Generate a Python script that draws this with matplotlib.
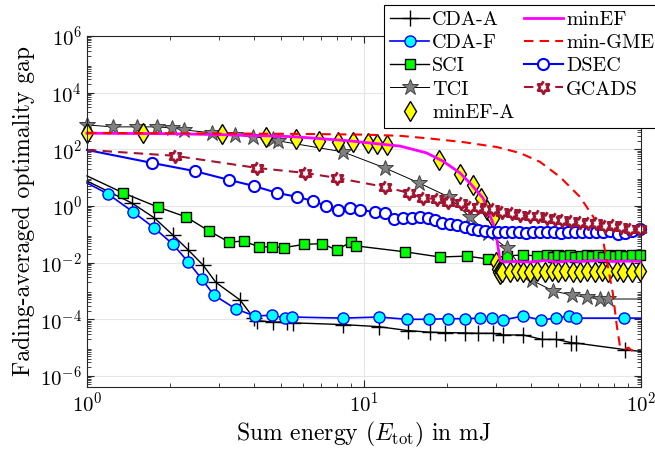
import numpy as np
import matplotlib
matplotlib.use("Agg")
import matplotlib.pyplot as plt

plt.rcParams["font.family"] = "serif"
plt.rcParams["font.serif"] = ["cmr10"]
plt.rcParams["mathtext.fontset"] = "cm"
plt.rcParams["axes.formatter.use_mathtext"] = True
plt.rcParams["axes.unicode_minus"] = False

# ---------------- data (energy in mJ, gap values) ----------------
cdaa_x = [1.0, 1.45, 1.75, 2.04, 2.32, 2.62, 2.92, 3.57, 4.0, 4.1, 4.7, 5.27, 5.54,
          8.4, 11.3, 14.4, 17.3, 19.6, 23.2, 25.8, 29.2, 31.8, 37.5, 44.0, 49.4,
          55.9, 58.2, 87.5, 100.0]
cdaa_y = [7.6, 1.28, 0.38, 0.095, 0.028, 0.0083, 0.002, 4.8e-4, 1.1e-4, 9e-5, 8e-5,
          8e-5, 7.5e-5, 6.5e-5, 5.5e-5, 4e-5, 3.5e-5, 3.4e-5, 3.3e-5, 3.2e-5, 3.2e-5,
          2.8e-5, 2.8e-5, 1.95e-5, 1.95e-5, 1.5e-5, 1.45e-5, 8.5e-6, 7.3e-6]

cdaf_x = [1.0, 1.19, 1.47, 1.75, 2.04, 2.32, 2.6, 2.87, 3.45, 4.04, 4.65, 5.2, 5.5,
          8.4, 11.3, 14.3, 17.1, 20.1, 23.2, 26.2, 29.0, 31.8, 37.5, 43.6, 49.4,
          55.0, 58.2, 86.7, 100.0]
cdaf_y = [6.5, 2.65, 0.61, 0.167, 0.045, 0.0105, 0.0026, 7.2e-4, 2.3e-4, 1.3e-4,
          1.4e-4, 1.1e-4, 1.2e-4, 1.1e-4, 1.2e-4, 1.0e-4, 1.0e-4, 1.05e-4, 1.05e-4,
          1.1e-4, 1.1e-4, 9.5e-5, 1.3e-4, 9.5e-5, 1.1e-4, 1.3e-4, 1.1e-4, 1.1e-4, 1.1e-4]

sci_x = [1.0, 1.35, 1.80, 2.28, 2.76, 3.26, 3.68, 4.17, 4.65, 5.14, 6.07, 7.05, 7.96,
         8.96, 9.35, 14.1, 18.8, 23.5, 28.0, 32.8, 37.5, 42.2, 45.8, 48.2, 50.1, 52.7,
         55.4, 57.9, 60.9, 63.8, 66.5, 70.0, 73.2, 76.8, 80.6, 84.0, 88.3, 92.8, 99.2]
sci_y = [11.5, 2.9, 0.92, 0.41, 0.13, 0.053, 0.058, 0.036, 0.036, 0.034, 0.044, 0.047,
         0.028, 0.053, 0.039, 0.024, 0.0158, 0.017, 0.0134, 0.017, 0.019, 0.017, 0.018,
         0.016, 0.019, 0.017, 0.018, 0.016, 0.017, 0.019, 0.017, 0.018, 0.016, 0.018,
         0.017, 0.019, 0.017, 0.018, 0.018]

tci_x = [1.0, 1.24, 1.51, 1.79, 2.03, 2.24, 2.83, 3.42, 3.97, 4.69, 4.89, 8.4, 11.9,
         15.8, 20.2, 24.1, 28.0, 32.7, 40.3, 48.2, 56.3, 63.6, 71.1, 75.8, 100.0]
tci_y = [725, 620, 620, 620, 570, 485, 380, 320, 275, 235, 200, 81, 22, 6.5, 2.1,
         0.41, 0.11, 0.033, 0.0024, 0.001, 7.2e-4, 6e-4, 5.2e-4, 5.2e-4, 5.2e-4]

minefa_x = [1.0, 1.59, 3.07, 4.43, 5.68, 6.88, 8.05, 9.12, 10.3, 11.1, 12.1, 18.7,
            22.2, 24.8, 26.4, 27.8, 29.2, 30.0, 30.4, 30.7, 31.0, 31.2, 31.5, 33.7,
            35.7, 37.5, 39.7, 42.2, 45.0, 47.7, 50.1, 53.2, 56.9, 60.2, 63.8, 68.2,
            72.3, 76.0, 81.9, 86.1, 92.8, 99.2]
minefa_y = [380, 380, 350, 275, 235, 200, 180, 180, 170, 155, 143, 42, 13.5, 5.5, 1.9,
            0.72, 0.38, 0.0105, 0.006, 0.0045, 0.004, 0.005, 0.0047, 0.0047, 0.005,
            0.0045, 0.0048, 0.005, 0.0046, 0.0049, 0.0047, 0.005, 0.0046, 0.0048,
            0.005, 0.0047, 0.0049, 0.0046, 0.005, 0.0048, 0.0047, 0.005]

minef_x = [1.0, 2.0, 3.0, 5.0, 5.87, 8.8, 13.5, 16.8, 19.3, 22.2, 24.1, 26.9, 29.2,
           30.2, 31.0, 32.0, 35.0, 40.0, 45.0, 50.0, 55.0, 60.0, 70.0, 80.0, 90.0, 100.0]
minef_y = [370, 355, 330, 290, 270, 200, 130, 75, 38, 14.7, 6.5, 1.9, 0.25, 0.063,
           0.012, 0.0105, 0.011, 0.0105, 0.012, 0.0105, 0.0115, 0.011, 0.012, 0.011,
           0.0115, 0.011]

mingme_x = [1.0, 5.87, 10.0, 13.5, 17.3, 22.8, 30.2, 36.6, 43.2, 51.0, 60.2, 67.3,
            72.9, 76.0, 79.1, 81.9, 84.0, 87.5, 90.0, 92.5, 95.5]
mingme_y = [380, 350, 330, 300, 240, 180, 120, 74, 36, 10.6, 2.1, 0.41, 0.063, 0.007,
            8.5e-4, 5.3e-5, 1.1e-5, 9e-6, 1.0e-5, 8e-6, 1.0e-5]

dsec_x = [1.0, 1.72, 2.45, 3.26, 4.0, 4.85, 5.73, 6.55, 7.3, 8.05, 8.9, 9.7, 10.96,
          11.9, 12.8, 13.8, 14.9, 15.9, 17.0, 18.0, 19.1, 20.4, 21.7, 23.2, 24.5, 25.8,
          27.4, 29.0, 30.5, 32.3, 34.2, 36.3, 38.5, 40.8, 43.2, 45.8, 48.6, 51.5, 54.6,
          57.9, 61.4, 65.1, 69.0, 73.2, 77.6, 82.3, 87.2, 92.5, 99.2]
dsec_y = [95, 33, 17, 8.3, 5.1, 2.9, 2.1, 1.5, 1.0, 0.72, 0.85, 0.72, 0.61, 0.57,
          0.35, 0.38, 0.38, 0.41, 0.38, 0.32, 0.25, 0.23, 0.21, 0.18, 0.154, 0.142,
          0.131, 0.12, 0.12, 0.12, 0.12, 0.12, 0.115, 0.12, 0.125, 0.12, 0.12, 0.115,
          0.12, 0.12, 0.12, 0.12, 0.125, 0.12, 0.13, 0.1, 0.11, 0.13, 0.16]

gcads_x = [1.0, 2.08, 4.11, 6.12, 8.0, 11.9, 14.5, 16.3, 18.3, 20.1, 22.4, 24.1, 25.8,
           27.5, 29.2, 31.5, 34.2, 36.6, 39.7, 42.4, 45.8, 48.9, 52.0, 55.8, 60.2, 64.3,
           69.0, 74.0, 79.0, 85.0, 91.0, 99.2]
gcads_y = [95, 59, 22, 14.7, 9.7, 4.7, 2.9, 1.9, 1.77, 1.38, 1.28, 0.92, 0.92, 0.78,
           0.78, 0.61, 0.55, 0.5, 0.45, 0.45, 0.38, 0.35, 0.33, 0.3, 0.28, 0.25, 0.25,
           0.2, 0.22, 0.18, 0.16, 0.15]

# ---------------- figure ----------------
fig = plt.figure(figsize=(6.55, 4.51), dpi=100)
ax = fig.add_axes([87 / 655, 64 / 451, 554 / 655, 351 / 451])

# six-pointed star marker
ang = np.pi / 2 + np.arange(12) * np.pi / 6
rad = np.where(np.arange(12) % 2 == 0, 1.0, 1.0 / np.sqrt(3))
hexagram = list(zip(rad * np.cos(ang), rad * np.sin(ang)))

dark_red = "#A2142F"
dash = (0, (4.5, 3))

ax.plot(cdaa_x, cdaa_y, color="k", lw=1.0, marker="+", ms=12, mew=1.0,
        markevery=list(range(1, len(cdaa_x) - 1)), label="CDA-A", clip_on=False)
ax.plot(cdaf_x, cdaf_y, color="#0000FF", lw=1.2, marker="o", ms=8, mfc="#00FFFF",
        mec="#0000FF", mew=1.0, markevery=list(range(1, len(cdaf_x) - 1)),
        label="CDA-F", clip_on=False)
ax.plot(sci_x, sci_y, color="k", lw=1.0, marker="s", ms=7.5, mfc="#00FF00",
        mec="k", mew=1.0, markevery=list(range(1, len(sci_x))), label="SCI",
        clip_on=False)
ax.plot(tci_x, tci_y, color="k", lw=0.7, marker="*", ms=12, mfc="#808080",
        mec="#404040", mew=0.7, markevery=list(range(0, len(tci_x) - 1)),
        label="TCI", clip_on=False)
ax.plot(minefa_x, minefa_y, ls="none", marker="d", ms=10, mfc="#FFFF00", mec="k",
        mew=1.0, label="minEF-A", clip_on=False)
ax.plot(minef_x, minef_y, color="#FF00FF", lw=2.0, label="minEF", clip_on=False)
ax.plot(mingme_x, mingme_y, color="#FF0000", lw=1.5, ls=dash,
        label="min-GME", clip_on=False)
ax.plot(dsec_x, dsec_y, color="#0000FF", lw=1.5, marker="o", ms=8, mfc="white",
        mec="#0000FF", mew=1.5, markevery=list(range(1, len(dsec_x))),
        label="DSEC", clip_on=False)
ax.plot(gcads_x, gcads_y, color=dark_red, lw=1.5, ls=dash, marker=hexagram,
        ms=9, mfc="white", mec=dark_red, mew=2.0,
        markevery=list(range(1, len(gcads_x))), label="GCADS", clip_on=False)

ax.set_xscale("log")
ax.set_yscale("log")
ax.set_xlim(1, 100)
ax.set_ylim(10 ** -6.39, 1e6)
ax.set_yticks([1e-6, 1e-4, 1e-2, 1e0, 1e2, 1e4, 1e6])
ax.yaxis.set_minor_locator(matplotlib.ticker.LogLocator(base=10, subs=np.arange(2, 10),
                                                        numticks=40))
ax.yaxis.set_minor_formatter(matplotlib.ticker.NullFormatter())
ax.grid(True, which="major", color="#E6E6E6", lw=0.8)
ax.set_axisbelow(True)
ax.tick_params(which="both", direction="in", top=True, right=True, labelsize=15,
               color="#262626")
ax.tick_params(which="major", length=5)
ax.tick_params(which="minor", length=3)
ax.tick_params(axis="x", pad=3)
for s in ax.spines.values():
    s.set_color("#262626")
    s.set_linewidth(0.8)

ax.set_xlabel(r"Sum energy ($E_{\mathrm{tot}}$) in mJ", fontsize=17, labelpad=3)
ax.set_ylabel("Fading-averaged optimality gap", fontsize=17, labelpad=4)

leg = ax.legend(ncol=2, loc="upper left", bbox_to_anchor=(384 / 655, 446 / 451),
                bbox_transform=fig.transFigure, fontsize=14.5, fancybox=False,
                framealpha=1, edgecolor="k", handlelength=1.95, columnspacing=0.45,
                handletextpad=0.15, borderpad=0.3, labelspacing=0.25,
                borderaxespad=0)
leg.get_frame().set_linewidth(0.8)
leg.set_zorder(10)

fig.savefig("out.png", dpi=100)
